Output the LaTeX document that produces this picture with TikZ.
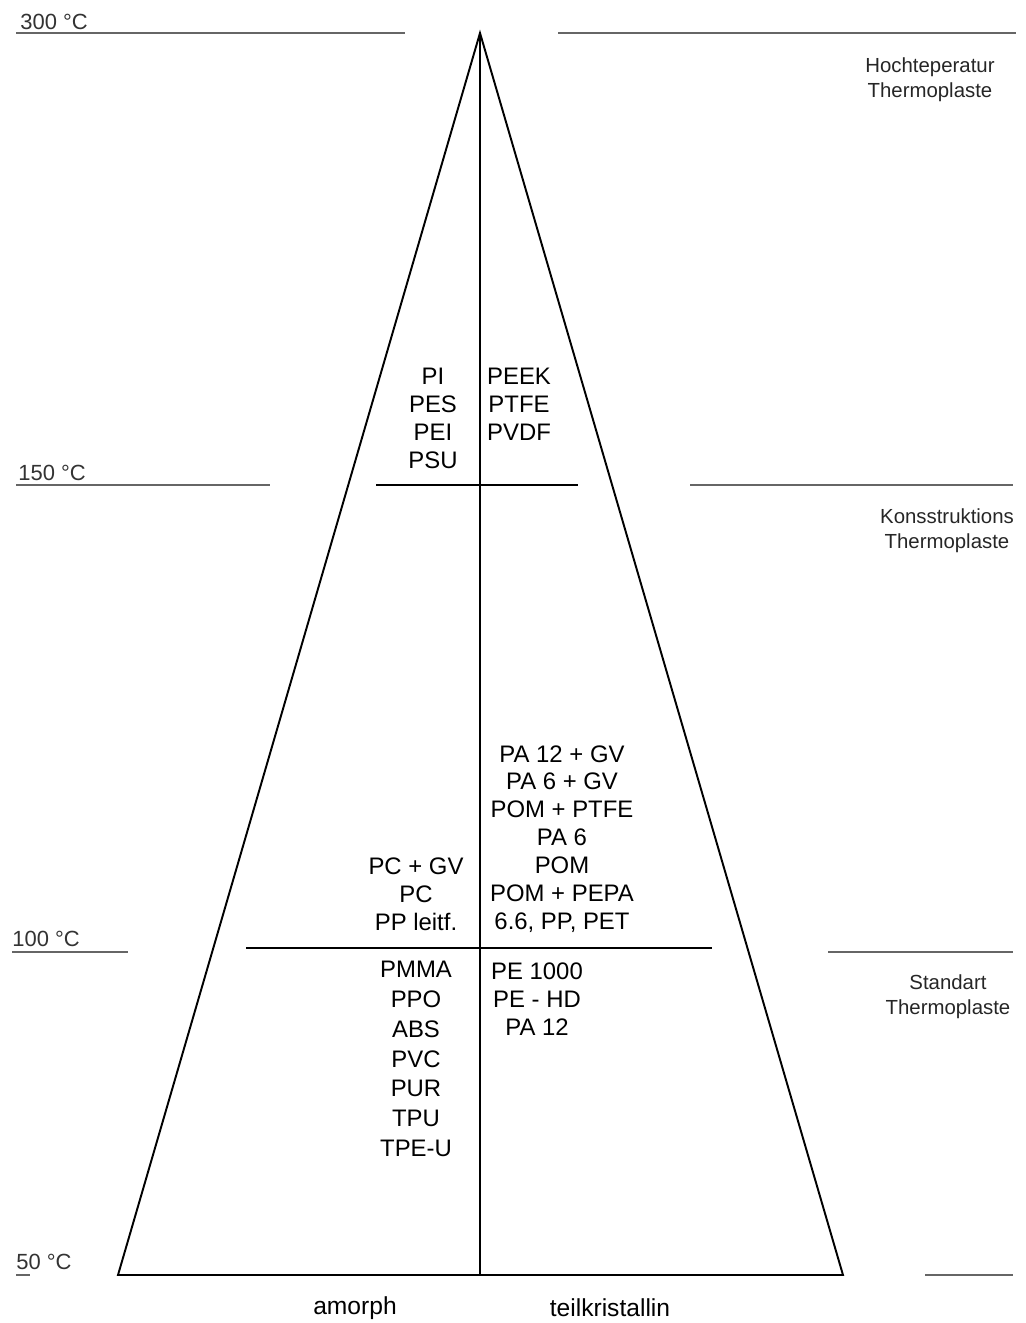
\documentclass[tikz,border=0pt]{standalone}
\usepackage{fontspec}
\setmainfont{Liberation Sans}
\begin{document}
\begin{tikzpicture}[x=0.02cm,y=-0.02cm,font=\fontsize{12.5}{15}\selectfont]
    \tikzstyle{temp line}=[draw=black!60,line width=1.1pt]
    \tikzstyle{main line}=[draw,line width=1.1pt]
    \tikzstyle{material}=[align=center,inner sep=0,font=\fontsize{13.6}{15.9}\selectfont]
    \tikzstyle{temp label}=[anchor=base west,inner sep=0,text=black!80]
    \tikzstyle{class label}=[align=center,inner sep=0,font=\fontsize{11.6}{14}\selectfont,text=black!85]
    \useasboundingbox (0,0) rectangle (1026,1323);

    % pyramid
    \coordinate (apex) at (480,33);
    \coordinate (bl) at (118,1275);
    \coordinate (br) at (843,1275);
    \coordinate (bm) at (480,1275);
    \coordinate (h150l) at (376,485);
    \coordinate (h150r) at (578,485);
    \coordinate (h100l) at (246,948);
    \coordinate (h100r) at (712,948);
    \draw[main line,line join=miter] (bl)--(apex)--(br)--cycle;
    \draw[main line] (apex)--(bm);
    \draw[main line] (h150l)--(h150r);
    \draw[main line] (h100l)--(h100r);

    % temperature levels
    \node(t300)[temp label] at (20,29){300 °C};
    \node(t150)[temp label] at (18,480){150 °C};
    \node(t100)[temp label] at (12,946){100 °C};
    \node(t50)[temp label] at (16,1269){50 °C};
    \coordinate (a300l) at (16,33);  \coordinate (b300l) at (405,33);
    \coordinate (a300r) at (558,33); \coordinate (b300r) at (1016,33);
    \coordinate (a150l) at (16,485); \coordinate (b150l) at (270,485);
    \coordinate (a150r) at (690,485);\coordinate (b150r) at (1013,485);
    \coordinate (a100l) at (12,952); \coordinate (b100l) at (128,952);
    \coordinate (a100r) at (828,952);\coordinate (b100r) at (1013,952);
    \coordinate (a50l) at (16,1275); \coordinate (b50l) at (30,1275);
    \coordinate (a50r) at (925,1275);\coordinate (b50r) at (1013,1275);
    \foreach \t in {300,150,100,50}{
        \draw[temp line] (a\t l)--(b\t l);
        \draw[temp line] (a\t r)--(b\t r);
    }

    % classes
    \node(hoch)[class label] at (930,80){Hochteperatur\\Thermoplaste};
    \node(kons)[class label] at (947,531){Konsstruktions\\Thermoplaste};
    \node(stan)[class label] at (948,997){Standart\\Thermoplaste};

    % materials
    \node(m1)[material] at (433,418){PI\\PES\\PEI\\PSU};
    \node(m2)[material] at (519,404){PEEK\\PTFE\\PVDF};
    \node(m3)[material] at (416,894){PC + GV\\PC\\PP leitf.};
    \node(m4)[material] at (562,839){PA 12 + GV\\PA 6 + GV\\POM + PTFE\\PA 6\\POM\\POM + PEPA\\6.6, PP, PET};
    \node(m5)[material,font=\fontsize{13.6}{17}\selectfont] at (416,1059){PMMA\\PPO\\ABS\\PVC\\PUR\\TPU\\TPE-U};
    \node(m6)[material] at (537,999){PE 1000\\PE - HD\\PA 12};

    % structure
    \node(amorph)[inner sep=0,font=\fontsize{14}{16}\selectfont] at (355,1308){amorph};
    \node(teil)[inner sep=0,font=\fontsize{14}{16}\selectfont] at (610,1308){teilkristallin};
\end{tikzpicture}
\end{document}
